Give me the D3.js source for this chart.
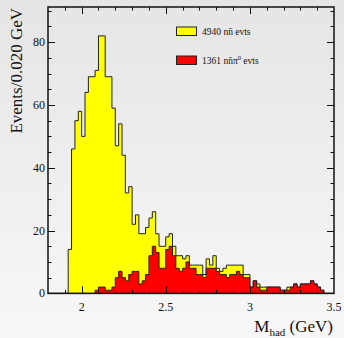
<!DOCTYPE html>
<html>
<head>
<meta charset="utf-8">
<script src="https://cdn.jsdelivr.net/npm/d3@7"></script>
<style>
  body { margin: 0; background: #f0f0f0; }
  svg { display: block; }
  text { font-family: 'Liberation Serif', 'Times New Roman', serif; fill: #111; }
</style>
</head>
<body>
<svg id="chart" width="344" height="338"></svg>
<script>
var binStart = 1.80
var binWidth = 0.020
/** all events per bin (yellow), bins from 1.80 to 3.50 GeV */
var allEvents = [0, 0, 0, 0, 0, 0, 14, 46, 55, 58, 50, 64, 69, 69, 71, 82, 82, 69, 69, 59,
  47, 54, 44, 32, 34, 22, 25, 19, 19, 21, 24, 26, 19, 15, 15, 18, 19, 15, 12, 12,
  11, 12, 9, 9, 9, 9, 6, 11, 9, 12, 8, 7, 8, 9, 9, 9, 9, 9, 6, 6,
  2, 4, 3, 2, 2, 2, 2, 2, 2, 1, 1, 2, 2, 3, 2, 3, 3, 3, 4, 3,
  2, 1, 0, 0, 0]
/** n nbar pi0 events per bin (red) */
var pi0Events = [0, 0, 0, 0, 0, 0, 0, 0, 0, 0, 0, 0, 0, 0, 1, 2, 2, 1, 1, 2,
  5, 7, 5, 4, 6, 7, 7, 3, 4, 6, 12, 15, 13, 8, 8, 14, 15, 12, 8, 7,
  8, 10, 8, 8, 6, 6, 5, 8, 8, 8, 7, 6, 6, 5, 6, 6, 7, 6, 5, 5,
  2, 4, 2, 1, 1, 2, 2, 2, 2, 1, 1, 1, 2, 3, 2, 3, 3, 3, 4, 3,
  2, 1, 0, 0, 0]
var xTicks = [2, 2.5, 3, 3.5]
var yTicks = [0, 20, 40, 60, 80]
var legendLabels = ['4940 nn\u0304 evts', '1361 nn\u0304\u03c0']
var legendColors = ['#ffff00', '#ff0000']

var svg = d3.select('#chart')
var pLeft = 48, pRight = 334, pTop = 7, pBottom = 293.4

/** background gradient */
var grad = svg.append('defs').append('linearGradient').attr('id', 'bg').attr('x1', 0).attr('y1', 0).attr('x2', 0).attr('y2', 1)
grad.append('stop').attr('offset', '0%').attr('stop-color', '#e5e5e5')
grad.append('stop').attr('offset', '100%').attr('stop-color', '#f7f7f7')
svg.append('rect').attr('width', 344).attr('height', 338).attr('fill', 'url(#bg)')

var x = d3.scaleLinear().domain([1.8, 3.5]).range([pLeft, pRight])
var y = d3.scaleLinear().domain([0, 91.2]).range([pBottom, pTop])

function histPath (values) {
  var pts = [[binStart, 0]]
  values.forEach(function (v, i) {
    var x0 = binStart + i * binWidth
    pts.push([x0, v], [x0 + binWidth, v])
  })
  pts.push([binStart + values.length * binWidth, 0])
  return d3.line().x(function (d) { return x(d[0]) }).y(function (d) { return y(d[1]) })(pts)
}

svg.append('path').attr('d', histPath(allEvents)).attr('fill', '#ffff00').attr('stroke', '#222').attr('stroke-width', 1)
svg.append('path').attr('d', histPath(pi0Events)).attr('fill', '#ff0000').attr('stroke', '#222').attr('stroke-width', 1)

/** ROOT style ticks, inside on all four sides */
var g = svg.append('g').attr('stroke', '#111').attr('stroke-width', 1)
d3.range(1.9, 3.45, 0.1).forEach(function (t) {
  var major = Math.abs(t * 2 - Math.round(t * 2)) < 1e-6
  var len = major ? 7 : 3.5
  var xx = Math.round(x(t)) + 0.5
  g.append('line').attr('x1', xx).attr('x2', xx).attr('y1', pBottom).attr('y2', pBottom - len)
  g.append('line').attr('x1', xx).attr('x2', xx).attr('y1', pTop).attr('y2', pTop + len)
})
d3.range(5, 91, 5).forEach(function (t) {
  var len = t % 20 === 0 ? 7 : 3.5
  var yy = Math.round(y(t)) + 0.5
  g.append('line').attr('y1', yy).attr('y2', yy).attr('x1', pLeft).attr('x2', pLeft + len)
  g.append('line').attr('y1', yy).attr('y2', yy).attr('x1', pRight).attr('x2', pRight - len)
})
svg.append('rect').attr('x', pLeft).attr('y', pTop).attr('width', pRight - pLeft).attr('height', pBottom - pTop)
  .attr('fill', 'none').attr('stroke', '#111').attr('stroke-width', 1.5)

/** tick labels */
svg.selectAll('.xl').data(xTicks).enter().append('text').attr('class', 'xl')
  .attr('x', function (d) { return x(d) }).attr('y', 311).attr('text-anchor', 'middle')
  .style('font-size', '12px').text(function (d) { return d })
svg.selectAll('.yl').data(yTicks).enter().append('text').attr('class', 'yl')
  .attr('x', 45).attr('y', function (d) { return y(d) + 4 }).attr('text-anchor', 'end')
  .style('font-size', '12px').text(function (d) { return d })

/** axis titles */
var xt = svg.append('text').attr('x', 333).attr('y', 331.5).attr('text-anchor', 'end').style('font-size', '17px')
xt.append('tspan').text('M')
xt.append('tspan').attr('dy', 4).style('font-size', '11px').text('had')
xt.append('tspan').attr('dy', -4).text(' (GeV)')
svg.append('text').attr('transform', 'translate(22,8) rotate(-90)').attr('text-anchor', 'end')
  .style('font-size', '17px').text('Events/0.020 GeV')

/** legend */
legendLabels.forEach(function (l, i) {
  var ly = 27 + i * 29
  svg.append('rect').attr('x', 176.5).attr('y', ly).attr('width', 20).attr('height', 8.5)
    .attr('fill', legendColors[i]).attr('stroke', '#222').attr('stroke-width', 1)
  var t = svg.append('text').attr('x', 202).attr('y', ly + 8).style('font-size', '9.5px')
  t.append('tspan').text(l)
  if (i === 1) {
    t.append('tspan').attr('dy', -4).style('font-size', '6.5px').text('0')
    t.append('tspan').attr('dy', 4).text(' evts')
  }
})
</script>
</body>
</html>
